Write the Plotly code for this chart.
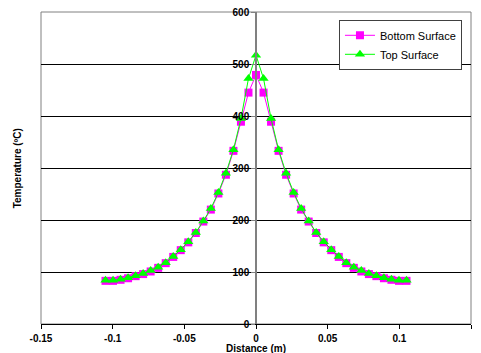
import plotly.graph_objects as go

distance = [-0.105, -0.09975, -0.0945, -0.08925, -0.084, -0.07875, -0.0735, -0.06825,
            -0.063, -0.05775, -0.0525, -0.04725, -0.042, -0.03675, -0.0315, -0.02625,
            -0.021, -0.01575, -0.0105, -0.00525, 0.0,
            0.00525, 0.0105, 0.01575, 0.021, 0.02625, 0.0315, 0.03675, 0.042, 0.04725,
            0.0525, 0.05775, 0.063, 0.06825, 0.0735, 0.07875, 0.084, 0.08925, 0.0945,
            0.09975, 0.105]

bottom_surface = [83, 83, 85, 88, 92, 96, 101, 108, 117, 129, 142, 157, 175, 197, 220,
                  251, 287, 333, 389, 445, 479,
                  445, 389, 333, 287, 251, 220, 197, 175, 157, 142, 129, 117, 108, 101,
                  96, 92, 88, 85, 83, 83]

top_surface = [84, 84, 86, 89, 93, 97, 103, 109, 118, 130, 143, 158, 176, 198, 222,
               253, 290, 335, 395, 472, 517,
               472, 395, 335, 290, 253, 222, 198, 176, 158, 143, 130, 118, 109, 103,
               97, 93, 89, 86, 84, 84]

x_ticks = [-0.15, -0.1, -0.05, 0, 0.05, 0.1, 0.15]
x_tick_labels = ["-0.15", "-0.1", "-0.05", "0", "0.05", "0.1", "0.15"]
y_ticks = [0, 100, 200, 300, 400, 500, 600]
y_tick_labels = ["0", "100", "200", "300", "400", "500", "600"]

FONT = "Liberation Sans, Arial, sans-serif"

fig = go.Figure()
fig.add_trace(go.Scatter(
    x=distance, y=bottom_surface, name="Bottom Surface", mode="lines+markers",
    line=dict(color="#FF00FF", width=1),
    marker=dict(symbol="square", size=8, color="#FF00FF"),
))
fig.add_trace(go.Scatter(
    x=distance, y=top_surface, name="Top Surface", mode="lines+markers",
    line=dict(color="#00FF00", width=1),
    marker=dict(symbol="triangle-up", size=9, color="#00FF00"),
))

fig.update_layout(
    width=481, height=353,
    margin=dict(l=41, r=10, t=12, b=29, autoexpand=False),
    paper_bgcolor="white", plot_bgcolor="white",
    font=dict(family=FONT, size=10, color="black"),
    showlegend=True,
    legend=dict(
        x=0.979, y=0.975, xanchor="right", yanchor="top",
        bgcolor="white", bordercolor="#404040", borderwidth=1,
        font=dict(family=FONT, size=11, color="black"),
        tracegroupgap=0, itemwidth=30,
    ),
    xaxis=dict(
        range=[-0.15, 0.15], tickvals=x_ticks,
        ticktext=["<b>%s</b>" % t for t in x_tick_labels],
        showgrid=False, zeroline=False, automargin=False,
        showline=True, linecolor="black", linewidth=1,
        ticks="outside", ticklen=4, tickcolor="black",
        ticklabelstandoff=1,
        tickfont=dict(family=FONT, size=10, color="black"),
    ),
    yaxis=dict(
        range=[0, 600], tickvals=y_ticks,
        ticktext=["<b>%s</b>" % t for t in y_tick_labels],
        anchor="free", position=0.5, automargin=False,
        showgrid=True, gridcolor="black", gridwidth=1,
        zeroline=False,
        showline=True, linecolor="#808080", linewidth=1.5,
        ticks="outside", ticklen=4, tickcolor="#808080",
        tickfont=dict(family=FONT, size=10, color="black"),
    ),
    shapes=[dict(type="rect", xref="paper", yref="paper", x0=0, x1=1, y0=0, y1=1,
                 line=dict(color="#808080", width=1), layer="below")],
    annotations=[
        dict(text="<b>Temperature (ºC)</b>", xref="paper", yref="paper",
             x=-0.055, y=0.5, xanchor="center", yanchor="middle",
             textangle=-90, showarrow=False,
             font=dict(family=FONT, size=10, color="black")),
        dict(text="<b>Distance (m)</b>", xref="paper", yref="paper",
             x=0.5, y=-0.077, xanchor="center", yanchor="middle",
             showarrow=False,
             font=dict(family=FONT, size=10, color="black")),
    ],
)

fig.write_html("out.html")
